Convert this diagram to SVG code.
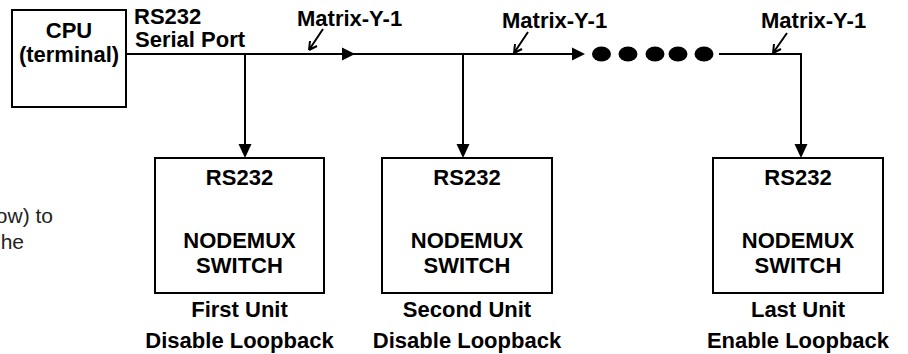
<svg xmlns="http://www.w3.org/2000/svg" width="908" height="354" viewBox="0 0 908 354">
<defs>
<style>
.box{fill:#fff;stroke:#000;stroke-width:2}
.ln{fill:none;stroke:#000;stroke-width:2}
.b{font-family:"Liberation Sans",Arial,sans-serif;font-weight:bold;font-size:22px;fill:#000}
.c{text-anchor:middle}
.r{font-family:"Liberation Sans",Arial,sans-serif;font-size:21px;fill:#222;text-anchor:end}
.ah{fill:#000}
</style>
</defs>
<g id="side-text">
<text class="r" x="53" y="223">ow) to</text>
<text class="r" x="24" y="249">he</text>
</g>
<g id="connectors">
<path class="ln" d="M126 54 H583"/>
<polygon class="ah" points="355,54 342,47.5 342,60.5"/>
<polygon class="ah" points="585,54 572,47.5 572,60.5"/>
<ellipse cx="601.5" cy="54" rx="9.5" ry="7.5"/>
<ellipse cx="628" cy="54" rx="9.5" ry="7.5"/>
<ellipse cx="655" cy="54" rx="9.5" ry="7.5"/>
<ellipse cx="678" cy="54" rx="9.5" ry="7.5"/>
<ellipse cx="704" cy="54" rx="9.5" ry="7.5"/>
<path class="ln" d="M719 54 H801 V145"/>
<path class="ln" d="M245 54 V145"/>
<path class="ln" d="M463 54 V145"/>
<polygon class="ah" points="245,158 238.5,144 251.5,144"/>
<polygon class="ah" points="463,158 456.5,144 469.5,144"/>
<polygon class="ah" points="801,158 794.5,144 807.5,144"/>
<path class="ln" d="M323 29 L309 50 M309 50 L310 41 M309 50 L317 46"/>
<path class="ln" d="M528 32 L514 53 M514 53 L515 44 M514 53 L522 49"/>
<path class="ln" d="M787 33 L773 53 M773 53 L774 44 M773 53 L781 49"/>
<text class="b" x="297" y="26">Matrix-Y-1</text>
<text class="b" x="502" y="28">Matrix-Y-1</text>
<text class="b" x="761" y="28">Matrix-Y-1</text>
<text class="b" x="134" y="24">RS232</text>
<text class="b" x="135" y="47">Serial Port</text>
</g>
<g id="cpu">
<rect class="box" x="12" y="10" width="114" height="97"/>
<text class="b c" x="69" y="38">CPU</text>
<text class="b c" x="69" y="62">(terminal)</text>
</g>
<g id="unit1">
<rect class="box" x="155" y="158" width="169" height="135"/>
<text class="b c" x="239.5" y="185">RS232</text>
<text class="b c" x="239.5" y="248">NODEMUX</text>
<text class="b c" x="239.5" y="273">SWITCH</text>
<text class="b c" x="239.5" y="317">First Unit</text>
<text class="b c" x="239.5" y="348">Disable Loopback</text>
</g>
<g id="unit2">
<rect class="box" x="382" y="158" width="170" height="135"/>
<text class="b c" x="467" y="185">RS232</text>
<text class="b c" x="467" y="248">NODEMUX</text>
<text class="b c" x="467" y="273">SWITCH</text>
<text class="b c" x="467" y="317">Second Unit</text>
<text class="b c" x="467" y="348">Disable Loopback</text>
</g>
<g id="unit3">
<rect class="box" x="713" y="158" width="170" height="135"/>
<text class="b c" x="798" y="185">RS232</text>
<text class="b c" x="798" y="248">NODEMUX</text>
<text class="b c" x="798" y="273">SWITCH</text>
<text class="b c" x="798" y="317">Last Unit</text>
<text class="b c" x="798" y="348">Enable Loopback</text>
</g>
</svg>
